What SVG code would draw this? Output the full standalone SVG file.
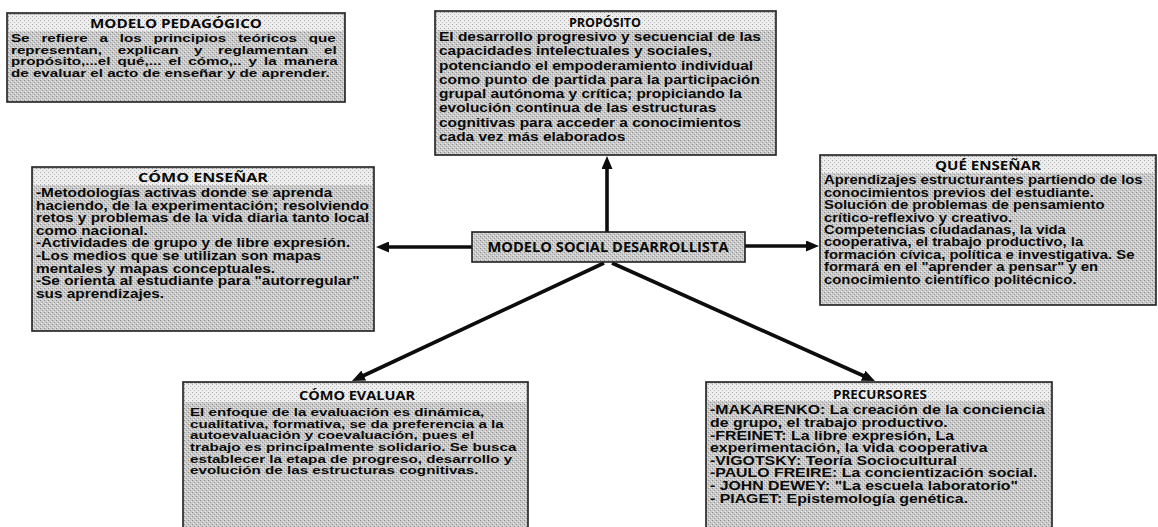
<svg xmlns="http://www.w3.org/2000/svg" width="1158" height="527" viewBox="0 0 1158 527">
<style>
.box{fill:url(#bodyTex);stroke:#1e1e1e;stroke-width:1.6}
.band{fill:url(#headTex)}
.title{font-family:"Open Sans","Liberation Sans",sans-serif;font-weight:700;font-size:12.5px;fill:#0a0a0a}
.body{font-family:"Liberation Sans",Arial,sans-serif;font-weight:700;font-size:12.5px;fill:#0a0a0a}
.tight{font-size:11.6px}
.conn{stroke:#0d0d0d;stroke-width:3.6;fill:none}
</style>
<defs>
<pattern id="bodyTex" width="4" height="4" patternUnits="userSpaceOnUse">
<rect width="4" height="4" fill="#c9c9c9"/>
<rect x="0" y="0" width="1" height="1" fill="#8c8c8c"/>
<rect x="2" y="2" width="1" height="1" fill="#9c9c9c"/>
<rect x="1" y="3" width="1" height="1" fill="#efefef"/>
<rect x="3" y="1" width="1" height="1" fill="#e6e6e6"/>
</pattern>
<pattern id="headTex" width="4" height="4" patternUnits="userSpaceOnUse">
<rect width="4" height="4" fill="#eeeeee"/>
<rect x="0" y="0" width="1" height="1" fill="#a8a8a8"/>
<rect x="2" y="2" width="1" height="1" fill="#bcbcbc"/>
</pattern>
<marker id="arr" viewBox="0 0 13 11" refX="7" refY="5.5" markerWidth="13" markerHeight="11" markerUnits="userSpaceOnUse" orient="auto">
<path d="M0,0 L13,5.5 L0,11 Z" fill="#0d0d0d"/>
</marker>
</defs>
<rect width="1158" height="527" fill="#ffffff"/>

<g id="connectors">
<path class="conn" d="M607,232 L607,162" marker-end="url(#arr)"/>
<path class="conn" d="M472,247 L382,247" marker-end="url(#arr)"/>
<path class="conn" d="M745,246 L813,246" marker-end="url(#arr)"/>
<path class="conn" d="M604,263 L357.4,378.5" marker-end="url(#arr)"/>
<path class="conn" d="M612,263 L869.5,378.5" marker-end="url(#arr)"/>
</g>

<g id="node-modelo-pedagogico">
<rect class="box" x="7" y="13" width="338" height="89"/>
<rect class="band" x="9" y="15" width="334" height="16"/>
<text class="title" x="176" y="27.5" text-anchor="middle" textLength="172" lengthAdjust="spacingAndGlyphs">MODELO PEDAGÓGICO</text>
<g class="body tight" transform="translate(11,0) scale(1.31,1)">
<text x="0" y="42" word-spacing="5.8">Se refiere a los principios teóricos que</text>
<text x="0" y="53.7" word-spacing="8.7">representan, explican y reglamentan el</text>
<text x="0" y="65.4" word-spacing="2.2">propósito,...el qué,... el cómo,.. y la manera</text>
<text x="0" y="77.1">de evaluar el acto de enseñar y de aprender.</text>
</g>
</g>

<g id="node-proposito">
<rect class="box" x="435" y="11" width="341" height="144"/>
<rect class="band" x="437" y="13" width="337" height="17"/>
<text class="title" x="605" y="26.5" text-anchor="middle" textLength="72" lengthAdjust="spacingAndGlyphs">PROPÓSITO</text>
<g class="body" transform="translate(439,0) scale(1.19,1)" style="font-size:13px">
<text x="0" y="41">El desarrollo progresivo y secuencial de las</text>
<text x="0" y="55.3">capacidades intelectuales y sociales,</text>
<text x="0" y="69.6">potenciando el empoderamiento individual</text>
<text x="0" y="83.9">como punto de partida para la participación</text>
<text x="0" y="98.2">grupal autónoma y crítica; propiciando la</text>
<text x="0" y="112.5">evolución  continua de las  estructuras</text>
<text x="0" y="126.8">cognitivas para acceder a conocimientos</text>
<text x="0" y="141.1">cada vez más elaborados</text>
</g>
</g>

<g id="node-central">
<rect class="box" x="472" y="232" width="273" height="30"/>
<text class="title" x="608" y="252" text-anchor="middle" textLength="241" lengthAdjust="spacingAndGlyphs" style="font-size:14px">MODELO SOCIAL DESARROLLISTA</text>
</g>

<g id="node-como-ensenar">
<rect class="box" x="32" y="167" width="342" height="164"/>
<rect class="band" x="34" y="169" width="338" height="16"/>
<text class="title" x="203" y="181.5" text-anchor="middle" textLength="130" lengthAdjust="spacingAndGlyphs">CÓMO ENSEÑAR</text>
<g class="body" transform="translate(36,0) scale(1.23,1)">
<text x="0" y="197">-Metodologías activas donde se aprenda</text>
<text x="0" y="209.6">haciendo, de la experimentación; resolviendo</text>
<text x="0" y="222.2">retos y problemas de la vida diaria tanto local</text>
<text x="0" y="234.8">como nacional.</text>
<text x="0" y="247.4">-Actividades de grupo y de libre expresión.</text>
<text x="0" y="260">-Los medios que se utilizan son mapas</text>
<text x="0" y="272.6">mentales y mapas conceptuales.</text>
<text x="0" y="285.2">-Se orienta al estudiante para "autorregular"</text>
<text x="0" y="297.8">sus aprendizajes.</text>
</g>
</g>

<g id="node-que-ensenar">
<rect class="box" x="820" y="155" width="336" height="150"/>
<rect class="band" x="822" y="157" width="332" height="16"/>
<text class="title" x="988" y="170" text-anchor="middle" textLength="106" lengthAdjust="spacingAndGlyphs">QUÉ ENSEÑAR</text>
<g class="body" transform="translate(824,0) scale(1.19,1)">
<text x="0" y="184.5">Aprendizajes estructurantes partiendo de los</text>
<text x="0" y="196.9">conocimientos previos del estudiante.</text>
<text x="0" y="209.3">Solución de problemas de pensamiento</text>
<text x="0" y="221.7">crítico-reflexivo y creativo.</text>
<text x="0" y="234.1">Competencias ciudadanas, la vida</text>
<text x="0" y="246.5">cooperativa, el trabajo  productivo, la</text>
<text x="0" y="258.9">formación cívica, política e investigativa. Se</text>
<text x="0" y="271.3">formará en el "aprender a pensar" y en</text>
<text x="0" y="283.7">conocimiento científico politécnico.</text>
</g>
</g>

<g id="node-como-evaluar">
<rect class="box" x="183" y="382" width="345" height="150"/>
<rect class="band" x="185" y="384" width="341" height="18"/>
<text class="title" x="357" y="400" text-anchor="middle" textLength="116" lengthAdjust="spacingAndGlyphs">CÓMO EVALUAR</text>
<g class="body tight" transform="translate(190,0) scale(1.31,1)">
<text x="0" y="416">El enfoque de la evaluación es dinámica,</text>
<text x="0" y="427.7">cualitativa, formativa, se da preferencia a la</text>
<text x="0" y="439.4">autoevaluación y coevaluación, pues el</text>
<text x="0" y="451.1">trabajo es principalmente solidario.  Se busca</text>
<text x="0" y="462.8">establecer  la etapa de progreso, desarrollo y</text>
<text x="0" y="474.5">evolución de las  estructuras cognitivas.</text>
</g>
</g>

<g id="node-precursores">
<rect class="box" x="706" y="382" width="346" height="150"/>
<rect class="band" x="708" y="384" width="342" height="17"/>
<text class="title" x="880" y="399" text-anchor="middle" textLength="94" lengthAdjust="spacingAndGlyphs">PRECURSORES</text>
<g class="body" transform="translate(710,0) scale(1.27,1)">
<text x="0" y="414.5">-MAKARENKO: La creación de la conciencia</text>
<text x="0" y="427.1">de grupo, el trabajo productivo.</text>
<text x="0" y="439.7">-FREINET: La libre expresión, La</text>
<text x="0" y="452.3">experimentación, la vida cooperativa</text>
<text x="0" y="464.9">-VIGOTSKY:  Teoría Sociocultural</text>
<text x="0" y="477.5">-PAULO FREIRE: La concientización social.</text>
<text x="0" y="490.1">- JOHN DEWEY: "La escuela laboratorio"</text>
<text x="0" y="502.7">- PIAGET: Epistemología genética.</text>
</g>
</g>
</svg>
